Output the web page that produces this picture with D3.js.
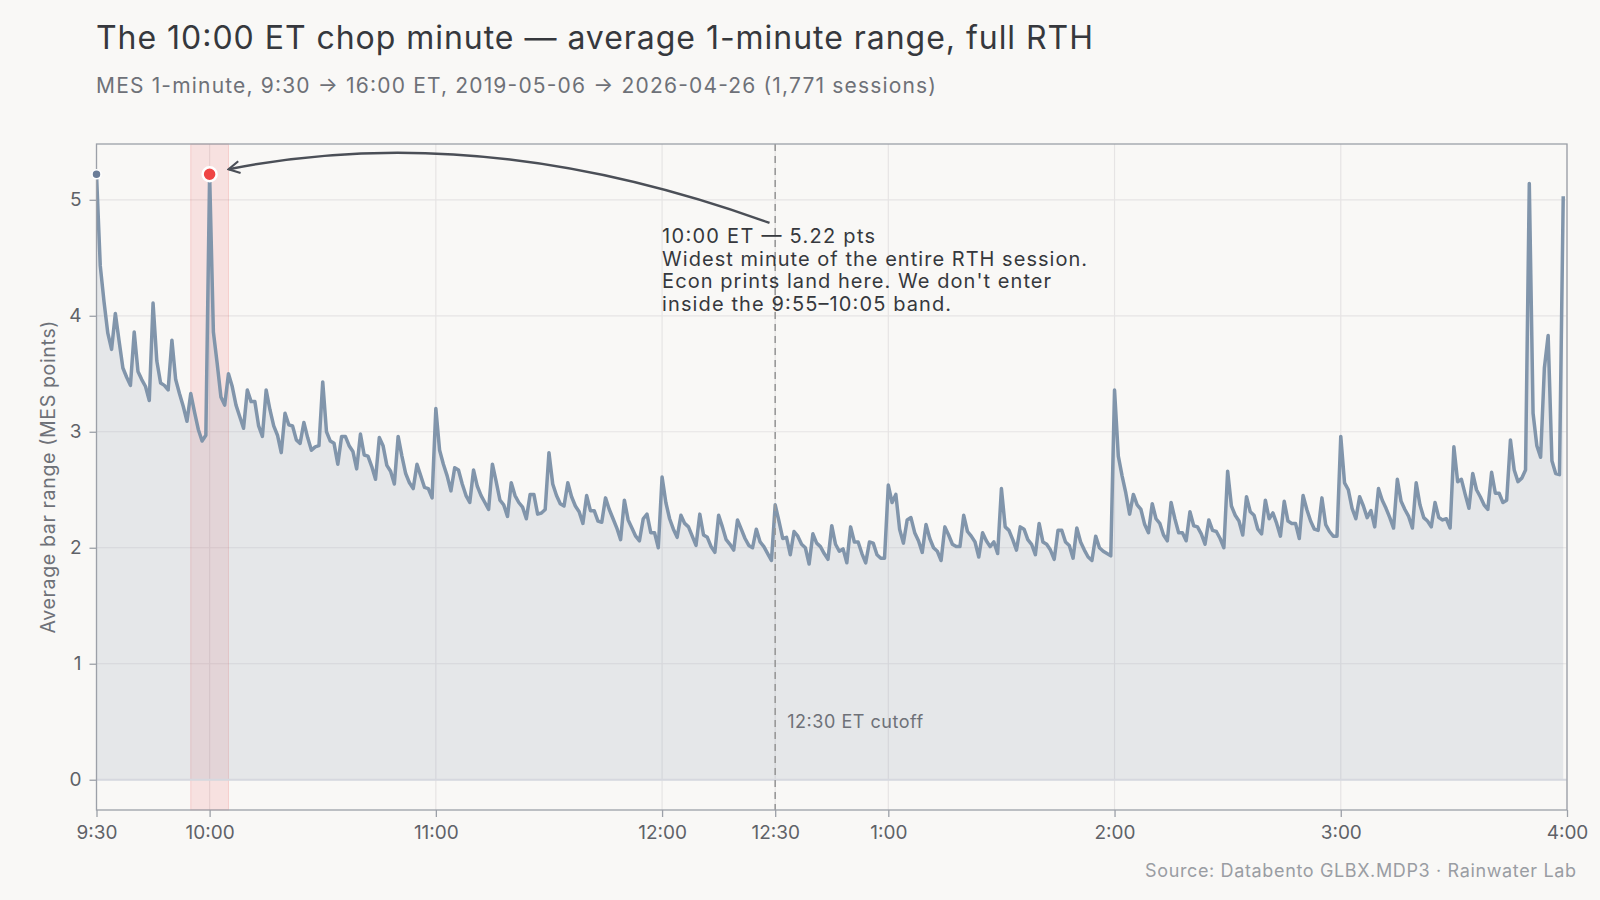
<!DOCTYPE html>
<html>
<head>
<meta charset="utf-8">
<script src="https://cdn.jsdelivr.net/npm/d3@7"></script>
<style>
  body { margin: 0; background: #f9f8f6; }
  text { font-family: Inter, "Liberation Sans", Arial, sans-serif; }
</style>
</head>
<body>
<script>
// average 1-minute bar range (MES points), one value per minute from 9:30 to 15:59
var rangePts = [
  5.22, 4.43, 4.12, 3.85, 3.71, 4.02, 3.78, 3.55, 3.47, 3.40,
  3.86, 3.52, 3.45, 3.39, 3.27, 4.11, 3.61, 3.42, 3.40, 3.36,
  3.79, 3.45, 3.33, 3.22, 3.09, 3.33, 3.17, 3.02, 2.92, 2.97,
  5.22, 3.86, 3.59, 3.30, 3.23, 3.50, 3.39, 3.23, 3.13, 3.03,
  3.36, 3.26, 3.26, 3.05, 2.96, 3.36, 3.19, 3.05, 2.97, 2.82,
  3.16, 3.06, 3.05, 2.93, 2.90, 3.08, 2.95, 2.84, 2.87, 2.88,
  3.43, 3.00, 2.92, 2.90, 2.72, 2.96, 2.96, 2.88, 2.83, 2.68,
  2.98, 2.80, 2.79, 2.70, 2.59, 2.95, 2.88, 2.71, 2.66, 2.55,
  2.96, 2.79, 2.64, 2.56, 2.51, 2.72, 2.62, 2.52, 2.51, 2.43,
  3.20, 2.84, 2.72, 2.62, 2.49, 2.69, 2.67, 2.55, 2.45, 2.39,
  2.67, 2.53, 2.45, 2.39, 2.33, 2.72, 2.57, 2.41, 2.37, 2.27,
  2.56, 2.45, 2.39, 2.35, 2.25, 2.46, 2.46, 2.29, 2.30, 2.33,
  2.82, 2.55, 2.45, 2.38, 2.36, 2.56, 2.44, 2.36, 2.31, 2.21,
  2.45, 2.32, 2.32, 2.23, 2.22, 2.43, 2.33, 2.25, 2.17, 2.07,
  2.41, 2.24, 2.17, 2.10, 2.06, 2.25, 2.29, 2.13, 2.13, 2.00,
  2.61, 2.39, 2.25, 2.16, 2.09, 2.28, 2.21, 2.18, 2.10, 2.02,
  2.29, 2.11, 2.09, 2.01, 1.96, 2.28, 2.18, 2.07, 2.03, 1.98,
  2.24, 2.16, 2.08, 2.02, 2.00, 2.16, 2.05, 2.01, 1.95, 1.89,
  2.37, 2.23, 2.08, 2.09, 1.94, 2.14, 2.10, 2.03, 2.00, 1.86,
  2.12, 2.04, 2.01, 1.95, 1.90, 2.19, 2.03, 1.97, 1.99, 1.87,
  2.18, 2.05, 2.05, 1.95, 1.87, 2.05, 2.04, 1.94, 1.91, 1.91,
  2.54, 2.39, 2.46, 2.16, 2.04, 2.24, 2.26, 2.13, 2.06, 1.96,
  2.20, 2.08, 2.00, 1.97, 1.89, 2.18, 2.11, 2.03, 2.01, 2.01,
  2.28, 2.14, 2.10, 2.05, 1.92, 2.13, 2.06, 2.01, 2.05, 1.95,
  2.51, 2.18, 2.15, 2.07, 1.98, 2.18, 2.16, 2.07, 2.03, 1.94,
  2.21, 2.05, 2.03, 1.98, 1.90, 2.15, 2.15, 2.05, 2.02, 1.91,
  2.17, 2.05, 1.98, 1.92, 1.89, 2.10, 2.00, 1.97, 1.95, 1.93,
  3.36, 2.79, 2.62, 2.47, 2.29, 2.46, 2.37, 2.33, 2.20, 2.13,
  2.38, 2.25, 2.21, 2.11, 2.06, 2.39, 2.25, 2.13, 2.13, 2.06,
  2.31, 2.19, 2.18, 2.12, 2.03, 2.24, 2.15, 2.14, 2.08, 2.00,
  2.66, 2.36, 2.28, 2.23, 2.11, 2.44, 2.31, 2.28, 2.16, 2.12,
  2.41, 2.25, 2.30, 2.21, 2.10, 2.40, 2.23, 2.21, 2.21, 2.08,
  2.45, 2.33, 2.23, 2.16, 2.15, 2.43, 2.20, 2.14, 2.10, 2.10,
  2.96, 2.56, 2.50, 2.34, 2.25, 2.44, 2.36, 2.26, 2.32, 2.18,
  2.51, 2.41, 2.34, 2.26, 2.17, 2.59, 2.40, 2.33, 2.27, 2.17,
  2.56, 2.37, 2.26, 2.23, 2.18, 2.39, 2.26, 2.24, 2.25, 2.17,
  2.87, 2.57, 2.59, 2.46, 2.34, 2.64, 2.50, 2.44, 2.37, 2.33,
  2.65, 2.47, 2.47, 2.39, 2.41, 2.93, 2.67, 2.57, 2.60, 2.67,
  5.14, 3.16, 2.88, 2.78, 3.55, 3.83, 2.75, 2.64, 2.63, 5.03
];

var tickMinutes = [0, 30, 90, 150, 180, 210, 270, 330, 390];
var tickLabels = ["9:30", "10:00", "11:00", "12:00", "12:30", "1:00", "2:00", "3:00", "4:00"];
var yTicks = [0, 1, 2, 3, 4, 5];

var peakMinute = 30, peakValue = 5.22;
var bandMinutes = [25, 35];
var cutoffMinute = 180;
var noteLines = [
  "10:00 ET \u2014 5.22 pts",
  "Widest minute of the entire RTH session.",
  "Econ prints land here. We don't enter",
  "inside the 9:55\u201310:05 band."
];
var noteWidths = [213, 425, 389, 289];

var width = 1600, height = 900;
var plotL = 96.5, plotR = 1567, plotT = 144, plotB = 810;

var svg = d3.select("body").append("svg")
  .attr("width", width)
  .attr("height", height)
  .style("display", "block")
  .style("background", "#f9f8f6");

var x = d3.scaleLinear().domain([0, 390]).range([plotL, plotR]);
var yMax = d3.max(rangePts);
var y = d3.scaleLinear().domain([-0.05 * yMax, 1.05 * yMax]).range([plotB, plotT]);

var defs = svg.append("defs");
defs.append("clipPath").attr("id", "plot")
  .append("rect").attr("x", plotL).attr("y", plotT)
  .attr("width", plotR - plotL).attr("height", plotB - plotT);

// grid
svg.append("g").selectAll("line").data(yTicks).enter().append("line")
  .attr("x1", plotL).attr("x2", plotR)
  .attr("y1", function(d){ return y(d); }).attr("y2", function(d){ return y(d); })
  .attr("stroke", "#e6e4e4").attr("stroke-width", 1.2);
svg.append("g").selectAll("line").data(tickMinutes).enter().append("line")
  .attr("x1", function(d){ return x(d); }).attr("x2", function(d){ return x(d); })
  .attr("y1", plotT).attr("y2", plotB)
  .attr("stroke", "#e6e4e4").attr("stroke-width", 1.2);

// 9:55-10:05 band
svg.append("rect")
  .attr("x", x(bandMinutes[0])).attr("y", plotT)
  .attr("width", x(bandMinutes[1]) - x(bandMinutes[0])).attr("height", plotB - plotT)
  .attr("fill", "rgba(239,68,68,0.12)")
  .attr("stroke", "rgba(239,68,68,0.18)").attr("stroke-width", 1);

var area = d3.area()
  .x(function(d, i){ return x(i); })
  .y0(y(0))
  .y1(function(d){ return y(d); });
var line = d3.line()
  .x(function(d, i){ return x(i); })
  .y(function(d){ return y(d); });

var g = svg.append("g").attr("clip-path", "url(#plot)");
g.append("path").datum(rangePts)
  .attr("d", area)
  .attr("fill", "#8093aa").attr("fill-opacity", 0.17);

// zero line
g.append("line")
  .attr("x1", plotL).attr("x2", plotR)
  .attr("y1", y(0)).attr("y2", y(0))
  .attr("stroke", "#d6d8df").attr("stroke-width", 2);

g.append("path").datum(rangePts)
  .attr("d", line)
  .attr("fill", "none")
  .attr("stroke", "#8195ab")
  .attr("stroke-width", 3.5)
  .attr("stroke-linejoin", "round");

// 12:30 cutoff
svg.append("line")
  .attr("x1", x(cutoffMinute)).attr("x2", x(cutoffMinute))
  .attr("y1", plotT).attr("y2", plotB)
  .attr("stroke", "#9a9a9a").attr("stroke-width", 1.6)
  .attr("stroke-dasharray", "7,5");
svg.append("text")
  .attr("x", x(cutoffMinute) + 12).attr("y", y(0.45))
  .attr("font-size", 18).attr("fill", "#6e7178")
  .attr("textLength", 136).attr("lengthAdjust", "spacing")
  .text("12:30 ET cutoff");

// frame
svg.append("rect")
  .attr("x", plotL).attr("y", plotT)
  .attr("width", plotR - plotL).attr("height", plotB - plotT)
  .attr("fill", "none").attr("stroke", "#9ca0a8").attr("stroke-width", 1.3);

// markers
svg.append("circle")
  .attr("cx", x(0)).attr("cy", y(rangePts[0])).attr("r", 4.5)
  .attr("fill", "#6b7d98").attr("stroke", "#ffffff").attr("stroke-width", 1.5);
svg.append("circle")
  .attr("cx", x(peakMinute)).attr("cy", y(peakValue)).attr("r", 7)
  .attr("fill", "#ef4444").attr("stroke", "#ffffff").attr("stroke-width", 2.5);

// axes
var yAxis = svg.append("g")
  .attr("transform", "translate(" + plotL + ",0)")
  .call(d3.axisLeft(y).tickValues(yTicks).tickSize(7).tickPadding(8).tickFormat(d3.format("d")));
var xAxis = svg.append("g")
  .attr("transform", "translate(0," + plotB + ")")
  .call(d3.axisBottom(x).tickValues(tickMinutes).tickSize(7).tickPadding(9)
    .tickFormat(function(d, i){ return tickLabels[i]; }));
[yAxis, xAxis].forEach(function(a){
  a.select(".domain").remove();
  a.selectAll(".tick line").attr("stroke", "#9ca0a8").attr("stroke-width", 1.3);
  a.selectAll(".tick text").attr("fill", "#5f6268").attr("font-size", 19)
    .attr("font-family", "Inter, 'Liberation Sans', Arial, sans-serif");
});

svg.append("text")
  .attr("transform", "translate(50," + ((plotT + plotB) / 2) + ") rotate(-90)")
  .attr("text-anchor", "middle").attr("dominant-baseline", "middle")
  .attr("font-size", 19.5).attr("fill", "#6e7178")
  .attr("textLength", 313).attr("lengthAdjust", "spacing")
  .text("Average bar range (MES points)");

// titles
svg.append("text")
  .attr("x", 96).attr("y", 49)
  .attr("font-size", 32).attr("fill", "#36383d")
  .attr("textLength", 997).attr("lengthAdjust", "spacing")
  .text("The 10:00 ET chop minute \u2014 average 1-minute range, full RTH");
svg.append("text")
  .attr("x", 96).attr("y", 93)
  .attr("font-size", 21).attr("fill", "#6e7178")
  .attr("textLength", 840).attr("lengthAdjust", "spacing")
  .text("MES 1-minute, 9:30 \u2192 16:00 ET, 2019-05-06 \u2192 2026-04-26 (1,771 sessions)");
svg.append("text")
  .attr("x", 1576).attr("y", 877)
  .attr("text-anchor", "end")
  .attr("font-size", 18).attr("fill", "#9a9da3")
  .attr("textLength", 431).attr("lengthAdjust", "spacing")
  .text("Source: Databento GLBX.MDP3 \u00b7 Rainwater Lab");

// annotation
noteLines.forEach(function(s, i){
  svg.append("text")
    .attr("x", x(150)).attr("y", y(4.63) + i * 22.8)
    .attr("font-size", 20).attr("fill", "#36383d")
    .attr("textLength", noteWidths[i]).attr("lengthAdjust", "spacing")
    .text(s);
});

defs.append("marker")
  .attr("id", "head")
  .attr("markerUnits", "userSpaceOnUse")
  .attr("markerWidth", 14).attr("markerHeight", 14)
  .attr("refX", 12).attr("refY", 7)
  .attr("orient", "auto")
  .append("path")
  .attr("d", "M1,1 L12,7 L1,13")
  .attr("fill", "none").attr("stroke", "#4b4f57").attr("stroke-width", 2.2);

var p0 = [x(178.5), y(4.8)], c = [x(102), y(5.7)], p1 = [x(peakMinute) + 19, y(peakValue) - 5];
var arrow = d3.path();
arrow.moveTo(p0[0], p0[1]);
arrow.quadraticCurveTo(c[0], c[1], p1[0], p1[1]);
svg.append("path")
  .attr("d", arrow.toString())
  .attr("fill", "none").attr("stroke", "#4b4f57").attr("stroke-width", 2.4)
  .attr("marker-end", "url(#head)");
</script>
</body>
</html>
